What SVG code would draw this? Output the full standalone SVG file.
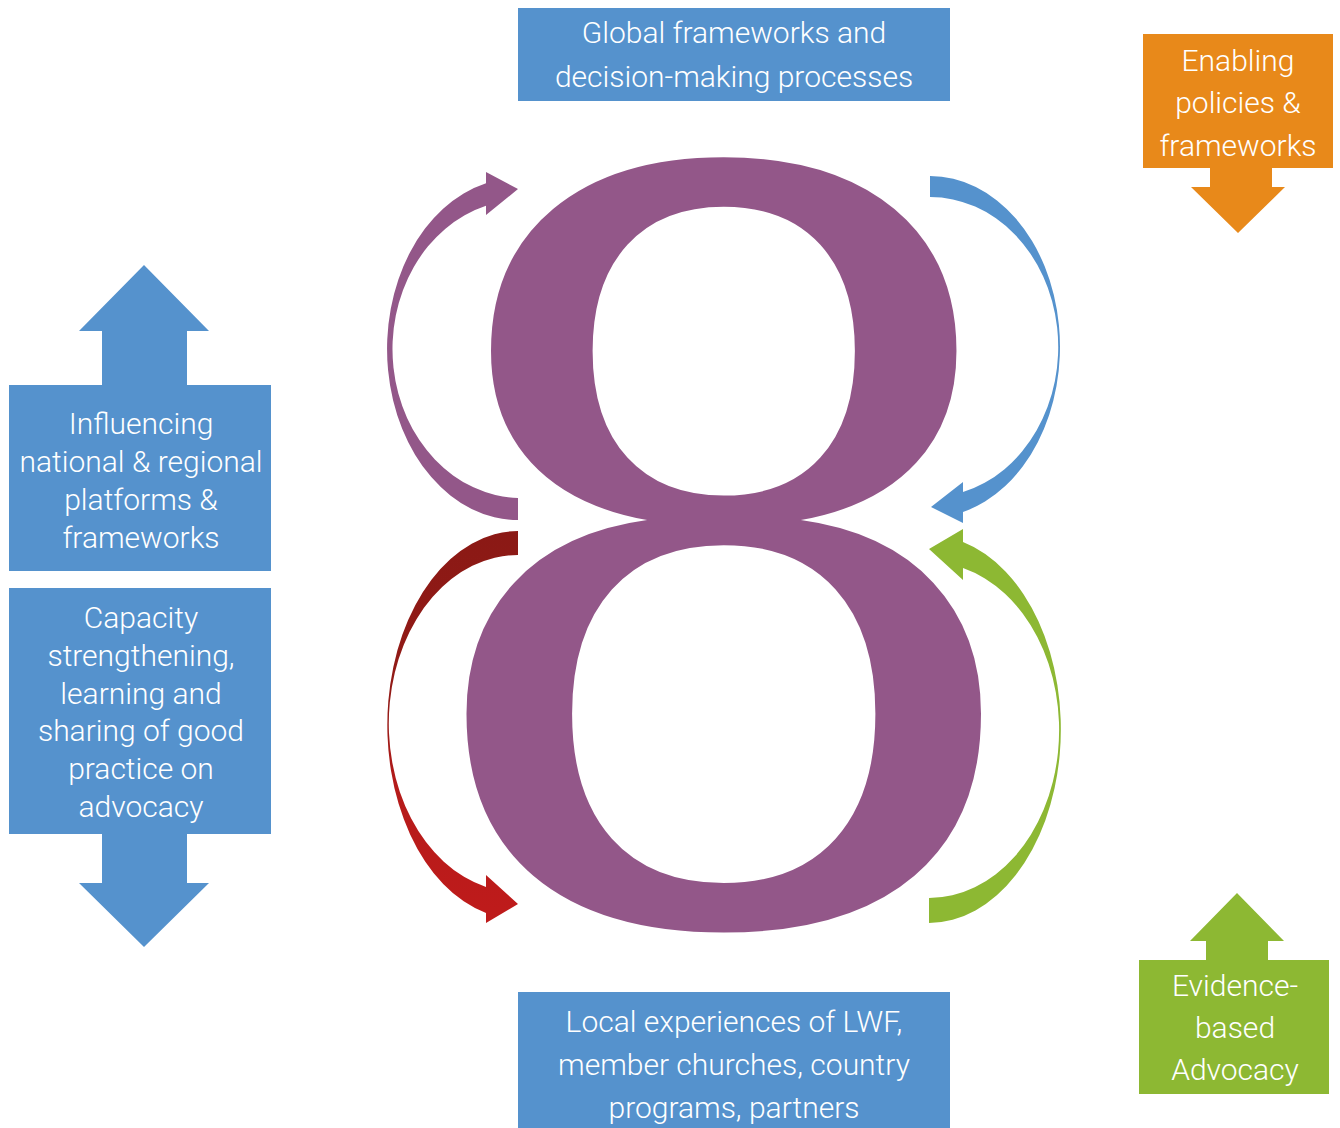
<svg xmlns="http://www.w3.org/2000/svg" width="1340" height="1128" viewBox="0 0 1340 1128">
<defs>
  <linearGradient id="redGrad" x1="0" y1="0" x2="0" y2="1">
    <stop offset="0" stop-color="#8B1915"/>
    <stop offset="0.45" stop-color="#931A16"/>
    <stop offset="0.65" stop-color="#B51B1A"/>
    <stop offset="1" stop-color="#BF1B1B"/>
  </linearGradient>
  <style>
    .lbl { font-family: Roboto, "Liberation Sans", sans-serif; font-weight: 300; font-size: 30px; fill: #ffffff; text-anchor: middle; }
    .blue { fill: #5592CD; }
    .orange { fill: #E8891A; }
    .green { fill: #8DB833; }
    .purple { fill: #935789; }
    .eight { font-family: "DejaVu Serif", "Liberation Serif", serif; font-size: 1025px; fill: #935789; text-anchor: middle; }
  </style>
</defs>
<rect width="1340" height="1128" fill="#ffffff"/>

<g id="eight">
  <text class="eight" x="724" y="918">8</text>
</g>

<g id="connectors">
  <path class="purple" d="M518,520 A131,171 0 0 1 486,183.2 L486,172 L518,189 L486,215 L486,205.8 A129,149 0 0 0 518,498 Z"/>
  <path fill="url(#redGrad)" d="M518,531 A131,194 0 0 0 486,913 L486,923 L518,904 L486,875 L486,887 A129,168.6 0 0 1 518,555 Z"/>
  <path class="blue" d="M930,176 A130,170.8 0 0 1 963,512 L963,523 L931,507 L963,482 L963,492 A128,150 0 0 0 930,197 Z"/>
  <path class="green" d="M929,923 A132,193.8 0 0 0 963,542 L963,529 L929,549 L963,580 L963,568 A130,167.9 0 0 1 929,898 Z"/>
</g>

<g id="global">
  <rect class="blue" x="518" y="8" width="432" height="93"/>
  <text class="lbl" x="734" y="43">Global frameworks and</text>
  <text class="lbl" x="734" y="87">decision-making processes</text>
</g>

<g id="local">
  <rect class="blue" x="518" y="992" width="432" height="136"/>
  <text class="lbl" x="734" y="1032">Local experiences of LWF,</text>
  <text class="lbl" x="734" y="1075">member churches, country</text>
  <text class="lbl" x="734" y="1118">programs, partners</text>
</g>

<g id="enabling">
  <rect class="orange" x="1143" y="34" width="190" height="134"/>
  <polygon class="orange" points="1210,167 1272,167 1272,187 1285,187 1238,233 1191,187 1210,187"/>
  <text class="lbl" x="1238" y="71">Enabling</text>
  <text class="lbl" x="1238" y="113">policies &amp;</text>
  <text class="lbl" x="1238" y="156">frameworks</text>
</g>

<g id="evidence">
  <rect class="green" x="1139" y="960" width="190" height="134"/>
  <polygon class="green" points="1206,961 1268,961 1268,941 1284,941 1237,893 1190,941 1206,941"/>
  <text class="lbl" x="1235" y="996">Evidence-</text>
  <text class="lbl" x="1235" y="1038">based</text>
  <text class="lbl" x="1235" y="1080">Advocacy</text>
</g>

<g id="influencing">
  <polygon class="blue" points="144,265 209,331 187,331 187,386 102,386 102,331 79,331"/>
  <rect class="blue" x="9" y="385" width="262" height="186"/>
  <text class="lbl" x="141" y="434">Influencing</text>
  <text class="lbl" x="141" y="472">national &amp; regional</text>
  <text class="lbl" x="141" y="510">platforms &amp;</text>
  <text class="lbl" x="141" y="548">frameworks</text>
</g>

<g id="capacity">
  <rect class="blue" x="9" y="588" width="262" height="246"/>
  <polygon class="blue" points="102,833 187,833 187,883 209,883 144,947 79,883 102,883"/>
  <text class="lbl" x="141" y="628">Capacity</text>
  <text class="lbl" x="141" y="666">strengthening,</text>
  <text class="lbl" x="141" y="704">learning and</text>
  <text class="lbl" x="141" y="741">sharing of good</text>
  <text class="lbl" x="141" y="779">practice on</text>
  <text class="lbl" x="141" y="817">advocacy</text>
</g>
</svg>
